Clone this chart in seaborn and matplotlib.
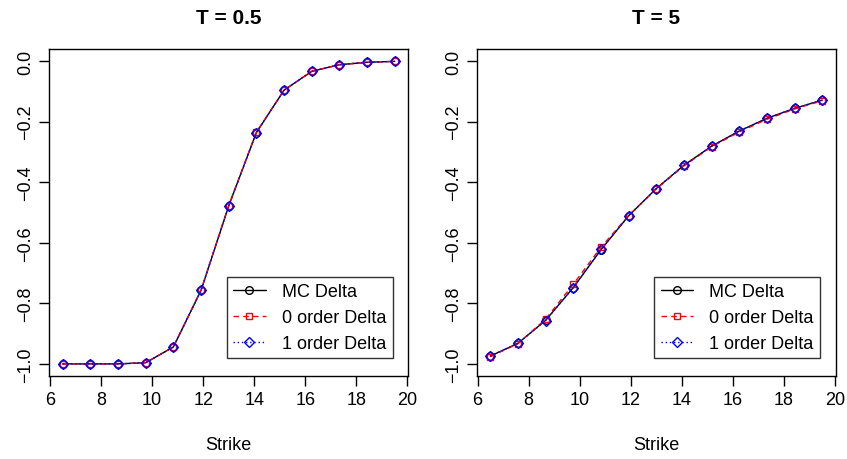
import matplotlib
matplotlib.use("Agg")
import matplotlib.pyplot as plt
import seaborn as sns
import numpy as np

# strikes, 13 points from 6.5 to 19.5
strikes = [6.5, 7.583, 8.667, 9.75, 10.833, 11.917, 13.0, 14.083, 15.167, 16.25, 17.333, 18.417, 19.5]

# T = 0.5
mc_short = [-1.000, -1.000, -1.000, -0.996, -0.944, -0.757, -0.478, -0.236, -0.096, -0.034, -0.012, -0.004, -0.001]
zero_short = [-1.000, -1.000, -1.000, -0.996, -0.944, -0.756, -0.477, -0.235, -0.096, -0.034, -0.012, -0.004, -0.001]
one_short = [-1.000, -1.000, -1.000, -0.996, -0.944, -0.757, -0.478, -0.236, -0.096, -0.034, -0.012, -0.004, -0.001]

# T = 5
mc_long = [-0.974, -0.932, -0.856, -0.748, -0.623, -0.511, -0.421, -0.344, -0.281, -0.231, -0.189, -0.156, -0.129]
zero_long = [-0.976, -0.933, -0.852, -0.737, -0.615, -0.510, -0.422, -0.346, -0.283, -0.234, -0.192, -0.158, -0.131]
one_long = [-0.974, -0.932, -0.857, -0.748, -0.622, -0.511, -0.421, -0.344, -0.281, -0.231, -0.189, -0.156, -0.129]

titles = ["T = 0.5", "T = 5"]
labels = ["MC Delta", "0 order Delta", "1 order Delta"]
colors = ["black", "red", "blue"]
styles = ["-", (0, (4, 3)), (0, (1, 2))]
marks = ["o", "s", "D"]
sizes = [5.5, 5.0, 5.2]

sns.set_style("ticks")
plt.rcParams["font.family"] = ["Liberation Sans", "DejaVu Sans"]
for key in ["text.color", "axes.labelcolor", "xtick.color", "ytick.color", "axes.edgecolor"]:
	plt.rcParams[key] = "black"

fig = plt.figure(figsize=(8.47, 4.6), dpi=100)
lefts = [0.0584, 0.5632]
panels = [[mc_short, zero_short, one_short], [mc_long, zero_long, one_long]]

for k in range(2):
	ax = fig.add_axes([lefts[k], 0.1804, 0.4233, 0.711])
	for j in range(3):
		sns.lineplot(x=strikes, y=panels[k][j], ax=ax, color=colors[j], linestyle=styles[j],
			marker=marks[j], markersize=sizes[j], markerfacecolor="none",
			markeredgecolor=colors[j], markeredgewidth=1.0, linewidth=1.0, label=labels[j])
	ax.set_xlim(5.98, 20.02)
	ax.set_ylim(-1.04, 0.04)
	ax.set_xticks([6, 8, 10, 12, 14, 16, 18, 20])
	ax.set_yticks([0.0, -0.2, -0.4, -0.6, -0.8, -1.0])
	ax.set_yticklabels(["0.0", "\u22120.2", "\u22120.4", "\u22120.6", "\u22120.8", "\u22121.0"],
		rotation=90, va="center")
	ax.tick_params(axis="both", direction="out", length=7, width=1, labelsize=13, pad=4,
		colors="black")
	for sp in ax.spines.values():
		sp.set_visible(True)
		sp.set_linewidth(1.0)
		sp.set_color("black")
	ax.set_title(titles[k], fontsize=15, fontweight="bold", pad=19, color="black")
	ax.set_xlabel("Strike", fontsize=13, labelpad=20, color="black")
	ax.set_ylabel("")
	leg = ax.legend(loc="lower right", bbox_to_anchor=(0.957, 0.054), fontsize=13,
		frameon=True, fancybox=False, handlelength=1.8, borderpad=0.35, labelspacing=0.5,
		handletextpad=0.9, borderaxespad=0)
	leg.get_frame().set_edgecolor("black")
	leg.get_frame().set_linewidth(1.0)
	for t in leg.get_texts():
		t.set_color("black")

plt.savefig("out.png", dpi=100)
